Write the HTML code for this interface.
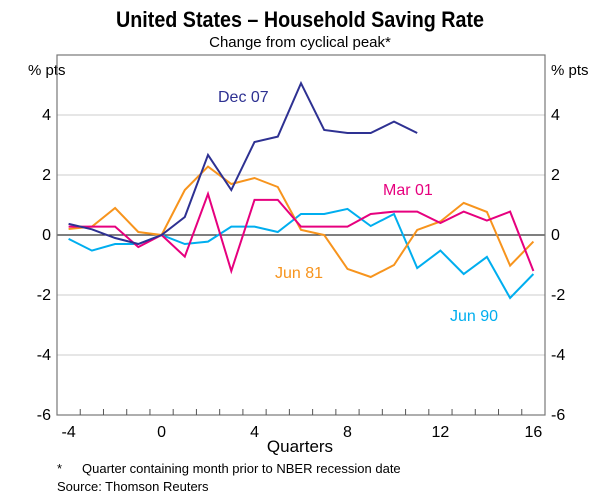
<!DOCTYPE html>
<html><head><meta charset="utf-8"><style>
body{margin:0;background:#fff;}
svg text{font-family:"Liberation Sans",Arial,sans-serif;}
</style></head><body>
<svg id="chart" width="600" height="499" viewBox="0 0 600 499" xmlns="http://www.w3.org/2000/svg">
<text x="300" y="27" text-anchor="middle" font-size="22" font-weight="bold" textLength="368" lengthAdjust="spacingAndGlyphs">United States – Household Saving Rate</text>
<text x="300" y="47" text-anchor="middle" font-size="15">Change from cyclical peak*</text>
<text x="28" y="75" font-size="15">% pts</text>
<text x="551" y="75" font-size="15">% pts</text>
<g id="grid"></g>
<g id="series"></g>
<rect x="57" y="55" width="488" height="360" fill="none" stroke="#777" stroke-width="1.2"/>
<g id="axes"></g>
<text x="300" y="452" text-anchor="middle" font-size="17">Quarters</text>
<text x="57" y="473" font-size="13">*<tspan x="82">Quarter containing month prior to NBER recession date</tspan></text>
<text x="57" y="491" font-size="13">Source: Thomson Reuters</text>
<text x="218" y="102" font-size="16" fill="#2e3192">Dec 07</text>
<text x="383" y="195" font-size="16" fill="#e6007e">Mar 01</text>
<text x="275" y="278" font-size="16" fill="#f7941d">Jun 81</text>
<text x="450" y="321" font-size="16" fill="#00aeef">Jun 90</text>
</svg>
<script>
const quarters = [-4,-3,-2,-1,0,1,2,3,4,5,6,7,8,9,10,11,12,13,14,15,16];
const dec07 = [0.37,0.19,-0.1,-0.3,0,0.6,2.67,1.5,3.1,3.28,5.06,3.5,3.4,3.4,3.78,3.4];
const jun81 = [0.2,0.28,0.9,0.1,0,1.5,2.28,1.7,1.9,1.6,0.17,0.0,-1.13,-1.4,-1.0,0.17,0.45,1.07,0.77,-1.02,-0.22];
const mar01 = [0.28,0.28,0.28,-0.4,0,-0.72,1.37,-1.2,1.17,1.17,0.28,0.28,0.28,0.7,0.78,0.78,0.4,0.78,0.48,0.78,-1.2];
const jun90 = [-0.13,-0.52,-0.3,-0.3,0,-0.3,-0.22,0.28,0.28,0.1,0.7,0.7,0.87,0.3,0.7,-1.1,-0.52,-1.3,-0.73,-2.1,-1.3];
const yTicks = [-6,-4,-2,0,2,4];
const xLabels = [-4,0,4,8,12,16];

const NS="http://www.w3.org/2000/svg";
const X0=57,X1=545,Y0=55,Y1=415;
const xs=q=>X0+(q+4.5)/21*(X1-X0);
const ys=v=>Y0+(6-v)/12*(Y1-Y0);
function mk(t,a,p){const e=document.createElementNS(NS,t);for(const k in a)e.setAttribute(k,a[k]);p.appendChild(e);return e;}
const grid=document.getElementById('grid'),axes=document.getElementById('axes'),ser=document.getElementById('series');
yTicks.forEach(v=>{
  if(v!==-6){const l=mk('line',{x1:X0,x2:X1,y1:ys(v),y2:ys(v),stroke:v===0?'#333':'#ccc','stroke-width':v===0?1.3:1},grid);
  
  }
  const t1=mk('text',{x:X0-6,y:ys(v)+5,'text-anchor':'end','font-size':16},axes);t1.textContent=v;
  
  
  const t2=mk('text',{x:X1+6,y:ys(v)+5,'text-anchor':'start','font-size':16},axes);t2.textContent=v;
  
  
});
for(let k=0;k<20;k++){const x=xs(-3.5+k);const l=mk('line',{x1:x,x2:x,y1:Y1,y2:Y1-6,stroke:'#555'},axes);
  
  }
xLabels.forEach(q=>{const t=mk('text',{x:xs(q),y:Y1+22,'text-anchor':'middle','font-size':16},axes);t.textContent=q;
  
  });
function line(vals,color,name){
  const d=vals.map((v,i)=>xs(quarters[i]).toFixed(1)+','+ys(v).toFixed(1)).join(' ');
  const p=mk('polyline',{points:d,fill:'none',stroke:color,'stroke-width':2,'stroke-linejoin':'miter'},ser);
  
  
}
line(jun90,'#00aeef','line-jun-90');
line(jun81,'#f7941d','line-jun-81');
line(mar01,'#e6007e','line-mar-01');
line(dec07,'#2e3192','line-dec-07');
</script>
</body></html>
